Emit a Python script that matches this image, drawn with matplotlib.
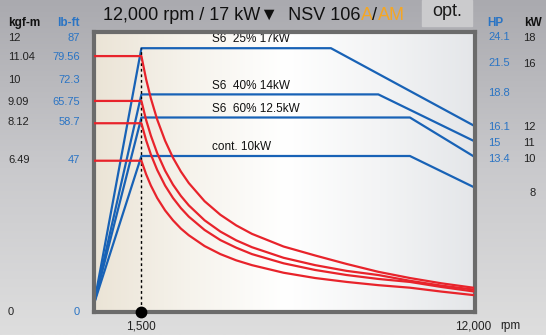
import numpy as np
import matplotlib.pyplot as plt
from matplotlib.colors import LinearSegmentedColormap

plt.rcParams['font.family'] = ['Liberation Sans', 'DejaVu Sans']

W, H = 546, 335

# torque curves (kgf-m)
rpm_t = [0, 1500, 1650, 1800, 2000, 2250, 2500, 2750, 3000, 3500, 4000, 4500,
         5000, 6000, 7000, 8000, 9000, 10000, 11000, 12000]
torque_s6_25 = [11.04, 11.04, 10.03, 9.20, 8.28, 7.36, 6.62, 6.02, 5.52, 4.73, 4.14, 3.68,
                3.31, 2.76, 2.37, 2.00, 1.66, 1.39, 1.16, 0.97]
torque_s6_40 = [9.09, 9.09, 8.26, 7.58, 6.82, 6.06, 5.45, 4.96, 4.55, 3.90, 3.41, 3.03,
                2.73, 2.27, 1.95, 1.70, 1.52, 1.27, 1.06, 0.89]
torque_s6_60 = [8.12, 8.12, 7.38, 6.76, 6.09, 5.41, 4.87, 4.43, 4.06, 3.48, 3.04, 2.71,
                2.43, 2.03, 1.74, 1.52, 1.35, 1.22, 1.00, 0.81]
torque_cont = [6.49, 6.49, 5.90, 5.41, 4.87, 4.33, 3.90, 3.54, 3.25, 2.78, 2.43, 2.16,
               1.95, 1.62, 1.39, 1.22, 1.08, 0.97, 0.80, 0.65]

# power curves (kW)
rpm_p_25 = [0, 1500, 7500, 12000]
power_25 = [0.4, 17, 17, 12]
rpm_p_40 = [0, 1500, 9000, 12000]
power_40 = [0.4, 14, 14, 11]
rpm_p_60 = [0, 1500, 10000, 12000]
power_60 = [0.4, 12.5, 12.5, 10]
rpm_p_cont = [0, 1500, 10000, 12000]
power_cont = [0.4, 10, 10, 8]

curve_labels = ['S6  25% 17kW', 'S6  40% 14kW', 'S6  60% 12.5kW', 'cont. 10kW']
curve_levels = [17, 14, 12.5, 10]

kgfm_labels = ['12', '11.04', '10', '9.09', '8.12', '6.49', '0']
lbft_labels = ['87', '79.56', '72.3', '65.75', '58.7', '47', '0']
left_rows = [38, 57, 80, 102, 122, 160, 312]

hp_labels = ['24.1', '21.5', '18.8', '16.1', '15', '13.4']
hp_rows = [37, 63, 93, 127, 143, 159]
kw_labels = ['18', '16', '12', '11', '10', '8']
kw_rows = [38, 64, 127, 143, 159, 193]

red = '#e8232b'
blue = '#1862b6'
lblue = '#2a74c4'
orange = '#f5a623'

fig = plt.figure(figsize=(W / 100, H / 100), dpi=100)

def ftext(x, y, s, **kw):
    return fig.text(x / W, 1 - y / H, s, **kw)

# figure background
bg = fig.add_axes([0, 0, 1, 1], zorder=-10)
bg_cmap = LinearSegmentedColormap.from_list('bg', ['#aaaaaf', '#c9c9cc', '#dedede'])
bg.imshow(np.linspace(0, 1, 256)[:, None], aspect='auto', cmap=bg_cmap,
          extent=[0, 1, 0, 1], origin='upper')
bg.axis('off')

# opt. box
bg.add_patch(plt.Rectangle((422 / W, 1 - 26 / H), 50 / W, 26 / H,
                           color='#cbcbcd', transform=bg.transAxes, zorder=2))
ftext(447, 11, 'opt.', fontsize=13, ha='center', va='center', color='#1a1a1a')

# main axes: power (kW)
left, right, top, bottom = 93.5, 475, 32, 312
ax = fig.add_axes([left / W, 1 - bottom / H, (right - left) / W, (bottom - top) / H])
ax.set_xlim(-16, 12060)
ax.set_ylim(-2 / 15.4, (310 - 32) / 15.4)

plot_cmap = LinearSegmentedColormap.from_list('pl', ['#ebe4d6', '#f6f3ec', '#ffffff', '#f3f4f5', '#e4e6e9'])
ax.imshow(np.linspace(0, 1, 256)[None, :], aspect='auto', cmap=plot_cmap,
          extent=[0, 1, 0, 1], transform=ax.transAxes, zorder=0)

for r, p in [(rpm_p_25, power_25), (rpm_p_40, power_40),
             (rpm_p_60, power_60), (rpm_p_cont, power_cont)]:
    ax.plot(r, p, color=blue, lw=1.6, zorder=3)

ax.plot([1500, 1500], [0, 17], color='black', lw=1.0, ls=(0, (2, 2)), zorder=4)

for lab, lev in zip(curve_labels, curve_levels):
    ax.annotate(lab, (3750, lev), xytext=(0, 2), textcoords='offset points',
                fontsize=8.5, ha='left', va='bottom', color='#111111')

for s in ax.spines.values():
    s.set_visible(False)
ax.set_yticks([])
ax.set_xticks([1500, 12000])
ax.set_xticklabels(['1,500', '12,000'], fontsize=8.5)
ax.tick_params(axis='x', length=0, pad=6, colors='#222222')

# torque axis (kgf-m)
ax2 = ax.twinx()
ax2.set_ylim(-2 / 23.0, (310 - 32) / 23.0)
ax2.patch.set_visible(False)
for t in [torque_s6_25, torque_s6_40, torque_s6_60, torque_cont]:
    ax2.plot(rpm_t, t, color=red, lw=1.6, zorder=3)
ax2.set_yticks([])
for s in ax2.spines.values():
    s.set_color('#6b6b6b')
    s.set_linewidth(3.0)
ax2.plot([1500], [-2 / 23.0], 'o', color='black', ms=7.5, clip_on=False, zorder=6)

ftext(510, 326, 'rpm', fontsize=8.5, ha='center', va='center', color='#222222')

# left labels
ftext(8, 23, 'kgf-m', fontsize=8.5, fontweight='bold', va='center', color='#111111')
ftext(80, 23, 'lb-ft', fontsize=8.5, fontweight='bold', va='center', ha='right', color=lblue)
for a, b, y in zip(kgfm_labels, lbft_labels, left_rows):
    ftext(8, y, a, fontsize=8, va='center', color='#222222')
    ftext(80, y, b, fontsize=8, va='center', ha='right', color=lblue)

# right labels
ftext(487, 23, 'HP', fontsize=8.5, fontweight='bold', va='center', color=lblue)
ftext(524, 23, 'kW', fontsize=8.5, fontweight='bold', va='center', color='#111111')
for a, y in zip(hp_labels, hp_rows):
    ftext(488, y, a, fontsize=8, va='center', color=lblue)
for a, y in zip(kw_labels, kw_rows):
    ftext(529 if a == '8' else 523, y, a, fontsize=8, va='center', color='#222222')

# title with coloured parts
renderer = fig.canvas.get_renderer()
x = 103
for part, col in [('12,000 rpm / 17 kW\u25bc  NSV 106', '#111111'), ('A', orange),
                  ('/', '#111111'), ('AM', orange)]:
    t = ftext(x, 16, part, fontsize=13, va='center', ha='left', color=col)
    bb = t.get_window_extent(renderer)
    x = bb.x1

fig.savefig('out.png', dpi=100)
